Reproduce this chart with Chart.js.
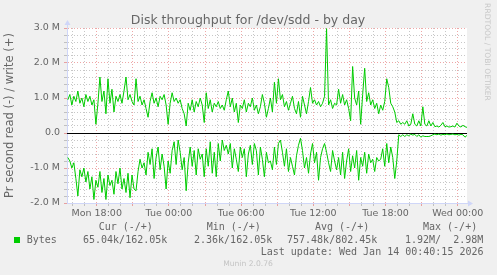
<!DOCTYPE html>
<html><head><meta charset="utf-8">
<script src="https://cdn.jsdelivr.net/npm/chart.js@4.4.1/dist/chart.umd.min.js"></script>
<style>html,body{margin:0;padding:0;background:#F0F0F0;overflow:hidden}#wrap{width:497px;height:275px;position:relative}</style>
</head><body><div id="wrap"><canvas id="c" width="497" height="275"></canvas></div>
<script>
const chartTitle = 'Disk throughput for /dev/sdd - by day';
const yAxisTitle = 'Pr second read (-) / write (+)';
const startHour = 15.6;      // hours since Mon 00:00 of first sample
const stepHours = 1 / 6;     // 10-minute samples
// write (+) throughput in MB/s
const writeM = [
 0.95,1.10,0.80,1.05,0.90,1.20,0.85,1.00,0.75,1.10,0.90,1.05,0.80,0.95,0.25,0.85,1.60,0.90,1.20,0.55,1.55,0.85,1.25,0.60,1.05,0.90,1.10,0.85,1.20,1.60,0.95,1.10,0.90,0.80,
 1.55,0.90,1.05,0.80,0.95,0.70,0.45,0.90,1.15,0.85,1.00,0.75,1.05,0.95,1.10,0.80,0.25,0.85,1.15,0.90,1.00,0.85,0.95,0.70,0.55,0.20,0.85,0.65,0.95,0.60,0.90,0.75,1.00,
 0.80,0.30,1.15,0.70,0.95,0.60,0.85,0.75,0.90,0.70,0.80,0.65,0.95,1.20,0.75,1.00,0.60,0.85,0.30,0.80,0.70,0.95,0.60,0.85,0.75,1.00,0.65,0.80,0.55,0.75,1.10,0.85,0.45,0.70,
 1.00,0.60,1.45,0.85,1.55,0.95,1.10,0.75,0.90,0.65,0.85,1.05,0.70,0.55,0.90,0.45,1.05,0.80,0.55,0.90,1.30,0.85,0.95,0.80,0.90,0.75,0.85,1.05,2.98,0.80,0.95,0.70,0.85,0.80,
 1.25,0.85,1.10,0.80,0.95,0.70,0.35,1.90,1.00,0.80,1.20,0.25,1.10,1.85,0.90,1.15,0.80,0.95,0.70,0.85,0.55,0.80,0.65,0.90,1.55,1.30,0.85,0.75,0.60,0.30,0.35,0.25,0.30,
 0.25,0.35,0.20,0.25,0.55,0.25,0.20,0.35,0.20,0.75,0.25,0.20,0.35,0.20,0.30,0.18,0.20,0.17,0.22,0.30,0.18,0.20,0.17,0.18,0.20,0.17,0.28,0.20,0.17,0.22,0.18,0.16
];
// read (-) throughput in MB/s (plotted below zero)
const readM = [
 0.70,0.80,1.00,0.85,1.30,1.80,1.05,1.25,1.00,1.40,1.10,1.60,1.25,1.90,1.35,1.55,1.10,1.70,1.30,1.90,1.20,1.50,1.35,1.75,1.10,1.45,1.00,1.60,1.30,1.70,1.15,1.85,1.20,1.60,
 1.65,1.10,0.75,1.00,0.85,1.20,0.55,0.90,0.45,1.30,0.70,0.40,1.05,0.60,0.95,1.60,0.80,1.15,0.50,0.25,0.90,0.20,0.55,1.05,0.70,1.65,0.85,0.40,0.95,0.50,1.20,0.45,0.75,
 0.60,1.25,0.45,0.95,0.25,1.15,0.55,1.25,0.30,0.80,0.20,0.50,0.35,0.60,0.30,1.00,0.45,0.75,1.10,0.40,0.70,0.45,1.25,0.60,0.35,0.90,0.30,0.50,1.20,0.40,0.75,1.25,0.55,0.85,
 0.80,1.05,0.40,0.90,0.30,0.20,0.55,0.95,0.45,1.10,0.70,0.95,1.20,0.65,0.35,0.15,0.50,1.00,0.70,1.15,0.60,0.30,0.85,0.55,1.35,0.70,0.45,0.30,0.55,0.85,1.10,0.50,0.80,1.05,
 0.70,1.20,0.55,1.30,0.80,0.45,1.10,0.65,1.00,0.50,1.35,0.70,0.95,0.55,1.15,0.60,0.85,0.75,1.10,0.70,0.80,0.75,0.45,0.95,0.30,0.85,0.40,0.70,1.30,0.80,0.05,0.10,0.05,
 0.10,0.05,0.08,0.03,0.06,0.04,0.10,0.05,0.12,0.08,0.10,0.10,0.10,0.08,0.05,0.03,0.05,0.03,0.06,0.04,0.05,0.03,0.05,0.04,0.03,0.05,0.04,0.06,0.04,0.05,0.12,0.07
];
const xTickHours = [18, 24, 30, 36, 42, 48];
const xTickLabels = ['Mon 18:00', 'Tue 00:00', 'Tue 06:00', 'Tue 12:00', 'Tue 18:00', 'Wed 00:00'];
const yTickValues = [-2, -1, 0, 1, 2, 3];
const yTickLabels = ['-2.0 M', '-1.0 M', '0.0', '1.0 M', '2.0 M', '3.0 M'];
const legendHeaders = ['Cur (-/+)', 'Min (-/+)', 'Avg (-/+)', 'Max (-/+)'];
const legendValues = ['65.04k/162.05k', '2.36k/162.05k', '757.48k/802.45k', '1.92M/  2.98M'];
const seriesName = 'Bytes';
const lastUpdate = 'Last update: Wed Jan 14 00:40:15 2026';
const footer = 'Munin 2.0.76';
const watermark = 'RRDTOOL / TOBI OETIKER';

const GRID = 'rgba(143,143,143,0.5)';
const MGRID = 'rgba(222,79,79,0.5)';
const AXIS = '#CFD6F8';
const FONT = '#666666';
const LINE = '#00CC00';

const writePts = writeM.map((v, i) => ({x: startHour + i * stepHours, y: v}));
const readPts = readM.map((v, i) => ({x: startHour + i * stepHours, y: -v}));

const decor = {
  id: 'decor',
  beforeDraw(chart) {
    const {ctx, chartArea: a} = chart;
    ctx.save();
    ctx.fillStyle = '#F0F0F0';
    ctx.fillRect(0, 0, chart.width, chart.height);
    ctx.fillStyle = '#FFFFFF';
    ctx.fillRect(a.left, a.top, a.right - a.left, a.bottom - a.top);
    ctx.restore();
  },
  beforeDatasetsDraw(chart) {
    const {ctx, chartArea: a, scales: {y}} = chart;
    const y0 = Math.round(y.getPixelForValue(0)) + 0.5;
    ctx.save();
    ctx.strokeStyle = '#000';
    ctx.lineWidth = 1.2;
    ctx.beginPath(); ctx.moveTo(a.left, y0); ctx.lineTo(a.right, y0); ctx.stroke();
    ctx.restore();
  },
  afterDraw(chart) {
    const {ctx, chartArea: a} = chart;
    ctx.save();
    ctx.strokeStyle = AXIS; ctx.fillStyle = AXIS; ctx.lineWidth = 1;
    const ax = a.left + 0.5, ay = a.bottom + 0.5;
    ctx.beginPath(); ctx.moveTo(ax, a.top); ctx.lineTo(ax, a.top - 5); ctx.stroke();
    ctx.beginPath(); ctx.moveTo(ax - 3, a.top - 3); ctx.lineTo(ax + 3, a.top - 3); ctx.lineTo(ax, a.top - 8); ctx.closePath(); ctx.fill();
    ctx.beginPath(); ctx.moveTo(a.right, ay); ctx.lineTo(a.right + 3, ay); ctx.stroke();
    ctx.beginPath(); ctx.moveTo(a.right + 1, ay - 3); ctx.lineTo(a.right + 1, ay + 3); ctx.lineTo(a.right + 6, ay); ctx.closePath(); ctx.fill();
    ctx.fillStyle = FONT;
    ctx.font = '12.5px "DejaVu Sans"';
    ctx.textAlign = 'center'; ctx.textBaseline = 'alphabetic';
    ctx.fillText(chartTitle, 248, 24);
    ctx.font = '10px "DejaVu Sans Mono"';
    ctx.textAlign = 'left'; ctx.textBaseline = 'middle';
    const hx = [98.7, 206.7, 315, 423];
    legendHeaders.forEach((t, i) => ctx.fillText(t, hx[i], 227.5));
    ctx.fillStyle = LINE;
    ctx.fillRect(14, 237, 6, 6);
    ctx.fillStyle = FONT;
    ctx.fillText(seriesName, 26.7, 240);
    const vx = [83, 194, 287, 405];
    legendValues.forEach((t, i) => ctx.fillText(t, vx[i], 240));
    ctx.textAlign = 'right';
    ctx.fillText(lastUpdate, 483.5, 252);
    ctx.textAlign = 'center';
    ctx.font = '7.6px "DejaVu Sans"';
    ctx.fillStyle = '#c4c4c4';
    ctx.fillText(footer, 248, 264);
    ctx.translate(487, 52);
    ctx.rotate(Math.PI / 2);
    ctx.fillStyle = '#c8c8c8';
    ctx.fillText(watermark, 0, 0);
    ctx.restore();
  }
};

new Chart(document.getElementById('c'), {
  type: 'line',
  data: {
    datasets: [
      {label: 'write', data: writePts, borderColor: LINE, borderWidth: 1, pointRadius: 0, tension: 0, fill: false},
      {label: 'read', data: readPts, borderColor: LINE, borderWidth: 1, pointRadius: 0, tension: 0, fill: false}
    ]
  },
  options: {
    responsive: false, animation: false, devicePixelRatio: 1,
    layout: {padding: {left: 0, top: 28, right: 30, bottom: 52}},
    plugins: {legend: {display: false}, title: {display: false}, tooltip: {enabled: false}},
    scales: {
      x: {
        type: 'linear', min: 15.53, max: 48.77,
        afterBuildTicks: s => { const t = []; for (let h = 16; h <= 48; h++) t.push({value: h}); s.ticks = t; },
        afterFit: s => { s.height = 20; },
        ticks: {
          autoSkip: false, maxRotation: 0, minRotation: 0, padding: 2, color: FONT,
          font: {family: 'DejaVu Sans', size: 9.5},
          callback: v => { const k = xTickHours.indexOf(v); return k >= 0 ? xTickLabels[k] : ''; }
        },
        grid: {
          color: c => (c.tick && c.tick.value % 3 === 0) ? MGRID : GRID,
          tickColor: c => (c.tick && c.tick.value % 3 === 0) ? MGRID : GRID,
          lineWidth: 1, tickLength: 3, drawTicks: true
        },
        border: {color: AXIS, width: 1, dash: [1, 2]}
      },
      y: {
        type: 'linear', min: -2, max: 3,
        afterBuildTicks: s => { const t = []; for (let k = -10; k <= 15; k++) t.push({value: k / 5}); s.ticks = t; },
        afterFit: s => { s.width = 67; },
        ticks: {
          autoSkip: false, padding: 4, color: FONT, font: {family: 'DejaVu Sans', size: 9.5},
          callback: v => { const k = yTickValues.findIndex(q => Math.abs(q - v) < 1e-6); return k >= 0 ? yTickLabels[k] : ''; }
        },
        grid: {
          color: c => { const v = c.tick ? c.tick.value : 1; if (Math.abs(v) < 1e-6) return 'rgba(0,0,0,0)'; return Math.abs(v - Math.round(v)) < 1e-6 ? MGRID : GRID; },
          tickColor: c => { const v = c.tick ? c.tick.value : 1; return Math.abs(v - Math.round(v)) < 1e-6 ? MGRID : GRID; },
          lineWidth: 1, tickLength: 3, drawTicks: true
        },
        border: {color: AXIS, width: 1, dash: [1, 2]},
        title: {display: true, text: yAxisTitle, color: FONT, font: {family: 'DejaVu Sans', size: 11.5}, padding: {top: 3, bottom: 0}}
      }
    }
  },
  plugins: [decor]
});
</script>
</body></html>
